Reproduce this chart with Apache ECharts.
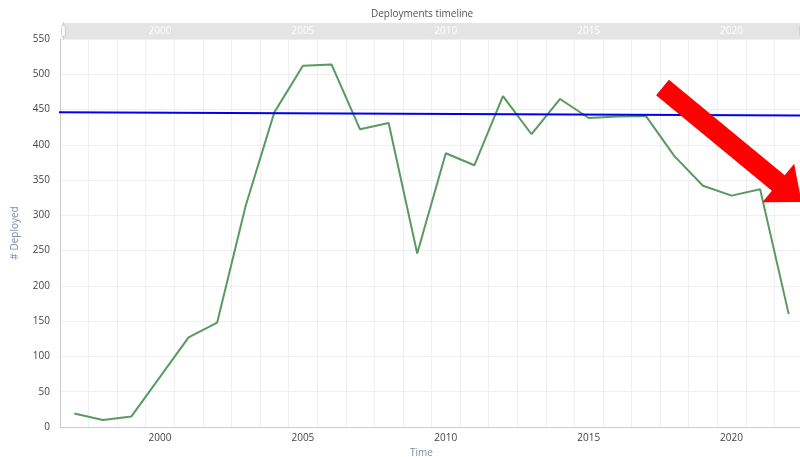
<!DOCTYPE html>
<html>
<head>
<meta charset="utf-8">
<script src="https://cdn.jsdelivr.net/npm/echarts@6/dist/echarts.min.js"></script>
<style>html,body{margin:0;padding:0;background:#fff}#c{width:800px;height:457px}</style>
</head>
<body>
<div id="c"></div>
<script>
var years = ['1997','1998','1999','2000','2001','2002','2003','2004','2005','2006','2007','2008','2009','2010','2011','2012','2013','2014','2015','2016','2017','2018','2019','2020','2021','2022'];
var deployed = [19, 10, 15, 71, 127, 148, 314, 446, 512, 514, 422, 431, 246, 388, 371, 469, 415, 465, 438, 440, 441, 384, 342, 328, 337, 160];
var refLineX = [1996.35, 2022.5];
var refLineY = [446.3, 441.4];
var yTicks = {min: 0, max: 550, step: 50};

var font = 'Open Sans';
var chart = echarts.init(document.getElementById('c'), null, {renderer: 'canvas'});
chart.setOption({
  animation: false,
  backgroundColor: '#fff',
  title: {
    text: 'Deployments timeline',
    left: 366, top: 4,
    textStyle: {fontFamily: font, fontSize: 10, fontWeight: 'normal', color: '#555'}
  },
  grid: {left: 60, top: 39, width: 743, height: 388, containLabel: false, outerBoundsMode: 'none'},
  dataZoom: [{
    type: 'slider', xAxisIndex: [0, 1], start: 0, end: 100,
    left: 60, width: 740, top: 23, height: 16,
    backgroundColor: '#e9e9e9', borderColor: 'transparent',
    fillerColor: 'rgba(225,225,225,0.6)',
    dataBackground: {lineStyle: {opacity: 0}, areaStyle: {opacity: 0}},
    selectedDataBackground: {lineStyle: {opacity: 0}, areaStyle: {opacity: 0}},
    showDetail: false, brushSelect: false, moveHandleSize: 0,
    handleSize: '110%',
    handleStyle: {color: '#fff', borderColor: '#ccc'}
  }],
  xAxis: [{
    type: 'category', data: years, boundaryGap: true,
    name: 'Time', nameLocation: 'middle', nameGap: 20,
    nameTextStyle: {fontFamily: font, fontSize: 10, color: '#7a8ea5', padding: [0, 20, 0, 0]},
    axisLine: {lineStyle: {color: '#ccc'}},
    axisTick: {show: false},
    axisLabel: {fontFamily: font, fontSize: 10, color: '#444', margin: 6,
      interval: function (i, v) { return (+v) % 5 === 0; }},
    splitLine: {show: true, interval: 0, lineStyle: {color: '#efefef'}}
  }, {
    type: 'category', data: years, boundaryGap: true, position: 'top', z: 10,
    axisLine: {show: false}, axisTick: {show: false}, splitLine: {show: false},
    axisLabel: {fontFamily: font, fontSize: 10, color: '#fff', margin: 3,
      interval: function (i, v) { return (+v) % 5 === 0; }}
  }, {
    type: 'value', min: 1996.5, max: 2022.5, show: false
  }],
  yAxis: {
    type: 'value', min: yTicks.min, max: yTicks.max, interval: yTicks.step,
    name: '# Deployed', nameLocation: 'middle', nameGap: 40,
    nameTextStyle: {fontFamily: font, fontSize: 10, color: '#7a8ea5'},
    axisLine: {show: true, lineStyle: {color: '#ccc'}},
    axisTick: {show: false},
    axisLabel: {fontFamily: font, fontSize: 10, color: '#444', margin: 10},
    splitLine: {lineStyle: {color: '#efefef'}}
  },
  series: [{
    type: 'line', xAxisIndex: 0, data: deployed, symbol: 'none',
    lineStyle: {color: '#5a9a60', width: 2}, z: 3
  }, {
    type: 'line', xAxisIndex: 2, clip: false, symbol: 'none',
    data: refLineX.map(function (x, i) { return [x, refLineY[i]]; }),
    lineStyle: {color: '#0000ee', width: 2}, z: 4
  }],
  graphic: [{
    type: 'polygon', z: 100,
    shape: {points: [[668.9, 79.8], [784.7, 175.3], [794.2, 163.7], [801.5, 202.1], [762.4, 202.3], [771.9, 190.7], [656.1, 95.2]]},
    style: {fill: '#ff0000'}
  }]
});
</script>
</body>
</html>
